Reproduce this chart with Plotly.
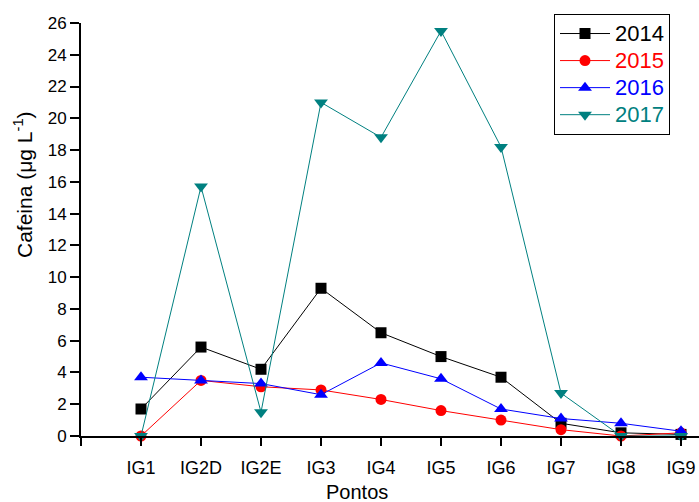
import plotly.graph_objects as go

# Sampling points and caffeine concentrations (µg/L) per year
pontos = ["IG1", "IG2D", "IG2E", "IG3", "IG4", "IG5", "IG6", "IG7", "IG8", "IG9"]
cafeina_2014 = [1.7, 5.6, 4.2, 9.3, 6.5, 5.0, 3.7, 0.8, 0.2, 0.1]
cafeina_2015 = [0.0, 3.5, 3.1, 2.9, 2.3, 1.6, 1.0, 0.4, 0.0, 0.2]
cafeina_2016 = [3.7, 3.5, 3.3, 2.6, 4.6, 3.6, 1.7, 1.1, 0.8, 0.3]
cafeina_2017 = [0.0, 15.7, 1.5, 21.0, 18.8, 25.5, 18.2, 2.7, 0.0, 0.0]

FONT = "Liberation Sans, Arial, sans-serif"
posicoes = list(range(len(pontos)))

series = [
    ("2014", cafeina_2014, "#000000", "square", 11),
    ("2015", cafeina_2015, "#ff0000", "circle", 11),
    ("2016", cafeina_2016, "#0000ff", "triangle-up", 12),
    ("2017", cafeina_2017, "#008080", "triangle-down", 12),
]

fig = go.Figure()
for nome, valores, cor, simbolo, tamanho in series:
    fig.add_trace(go.Scatter(
        x=posicoes,
        y=valores,
        mode="lines+markers",
        name=f'<span style="color:{cor};font-size:22px">{nome}</span>',
        line=dict(color=cor, width=1),
        marker=dict(symbol=simbolo, size=tamanho, color=cor, line=dict(width=0)),
        cliponaxis=False,
    ))

fig.update_layout(
    width=699,
    height=502,
    margin=dict(l=81, r=0, t=23, b=66),
    paper_bgcolor="white",
    plot_bgcolor="white",
    font=dict(family=FONT, color="black"),
    showlegend=True,
    legend=dict(
        x=(554 - 81) / 618,
        y=(436 - 14) / 413,
        xanchor="left",
        yanchor="top",
        bgcolor="white",
        bordercolor="black",
        borderwidth=1,
        font=dict(family=FONT, size=18.5),
        itemwidth=50,
        tracegroupgap=0,
    ),
    xaxis=dict(
        range=[-1, 9.3],
        tickmode="array",
        tickvals=[-1] + posicoes,
        ticktext=[""] + pontos,
        ticks="outside",
        ticklen=8,
        tickwidth=2,
        tickcolor="black",
        showline=True,
        linecolor="black",
        linewidth=2,
        showgrid=False,
        zeroline=False,
        tickfont=dict(family=FONT, size=18, color="black"),
        ticklabelstandoff=6,
    ),
    yaxis=dict(
        range=[0, 26],
        dtick=2,
        tick0=0,
        ticks="outside",
        ticklen=9,
        tickwidth=2,
        tickcolor="black",
        showline=True,
        linecolor="black",
        linewidth=2,
        showgrid=False,
        zeroline=False,
        tickfont=dict(family=FONT, size=17, color="black"),
    ),
    annotations=[
        dict(
            text="Pontos",
            xref="paper", yref="paper",
            x=(357 - 81) / 618, y=(436 - 492) / 413,
            xanchor="center", yanchor="middle",
            showarrow=False,
            font=dict(family=FONT, size=20, color="black"),
        ),
        dict(
            text="Cafeina (\u03bcg L<sup>-1</sup>)",
            xref="paper", yref="paper",
            x=(23 - 81) / 618, y=(436 - 185) / 413,
            xanchor="center", yanchor="middle",
            textangle=-90,
            showarrow=False,
            font=dict(family=FONT, size=21, color="black"),
        ),
    ],
)

fig.write_html("out.html")
